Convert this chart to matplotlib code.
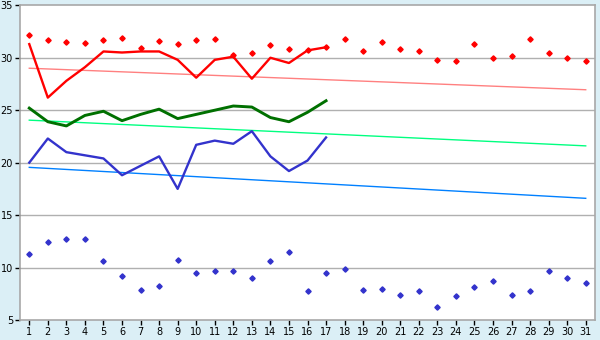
import matplotlib
matplotlib.use("Agg")
import matplotlib.pyplot as plt

days = list(range(1, 32))
line_days = list(range(1, 18))

max_points = [32.2, 31.7, 31.5, 31.4, 31.7, 31.9, 30.9, 31.6, 31.3, 31.7,
              31.8, 30.3, 30.5, 31.2, 30.8, 30.7, 31.0, 31.8, 30.6, 31.5,
              30.8, 30.6, 29.8, 29.7, 31.3, 30.0, 30.2, 31.8, 30.5, 30.0, 29.7]
min_points = [11.3, 12.4, 12.7, 12.7, 10.6, 9.2, 7.9, 8.2, 10.7, 9.5,
              9.7, 9.7, 9.0, 10.6, 11.5, 7.8, 9.5, 9.9, 7.9, 8.0,
              7.4, 7.8, 6.2, 7.3, 8.1, 8.7, 7.4, 7.8, 9.7, 9.0, 8.5]

red_line = [31.3, 26.2, 27.8, 29.1, 30.6, 30.5, 30.6, 30.6, 29.8, 28.1,
            29.8, 30.1, 28.0, 30.0, 29.5, 30.7, 31.0]
green_line = [25.2, 23.9, 23.5, 24.5, 24.9, 24.0, 24.6, 25.1, 24.2, 24.6,
              25.0, 25.4, 25.3, 24.3, 23.9, 24.8, 25.9]
blue_line = [20.0, 22.3, 21.0, 20.7, 20.4, 18.8, 19.7, 20.6, 17.5, 21.7,
             22.1, 21.8, 23.0, 20.6, 19.2, 20.2, 22.4]

# trend lines: value at day 1 and day 31
trend_days = [1, 31]
red_trend = [29.0, 26.95]
green_trend = [24.05, 21.6]
blue_trend = [19.55, 16.6]

BG = "#dbeff6"

fig = plt.figure(figsize=(6, 3.4), dpi=100, facecolor=BG)
ax = fig.add_axes([20 / 600, 1 - 320 / 340, 575 / 600, 314.7 / 340])
ax.set_facecolor("white")

for y in range(10, 35, 5):
    ax.axhline(y, color="#b0b0b0", linewidth=1.0, zorder=1)

ax.plot(trend_days, red_trend, color="#ff8080", linewidth=1.0, zorder=2)
ax.plot(trend_days, green_trend, color="#00ff80", linewidth=1.0, zorder=2)
ax.plot(trend_days, blue_trend, color="#0080ff", linewidth=1.0, zorder=2)

ax.plot(line_days, red_line, color="#ff0000", linewidth=1.7, zorder=3)
ax.plot(line_days, green_line, color="#007000", linewidth=2.1, zorder=3)
ax.plot(line_days, blue_line, color="#3333cc", linewidth=1.7, zorder=3)

ax.plot(days, max_points, linestyle="none", marker="D", markersize=2.7,
        color="#ff0000", zorder=4)
ax.plot(days, min_points, linestyle="none", marker="D", markersize=2.7,
        color="#3333cc", zorder=4)

ax.set_xlim(0.5, 31.5)
ax.set_ylim(5, 35)
ax.set_xticks(days)
ax.set_yticks(range(5, 40, 5))
ax.tick_params(axis="both", direction="out", length=3.5, width=1.0,
               color="black", labelsize=7, pad=1.5)

for side in ["top", "right", "bottom", "left"]:
    ax.spines[side].set_color("#a8a8a8")
    ax.spines[side].set_linewidth(1.2)

fig.savefig("out.png", dpi=100, facecolor=BG)
